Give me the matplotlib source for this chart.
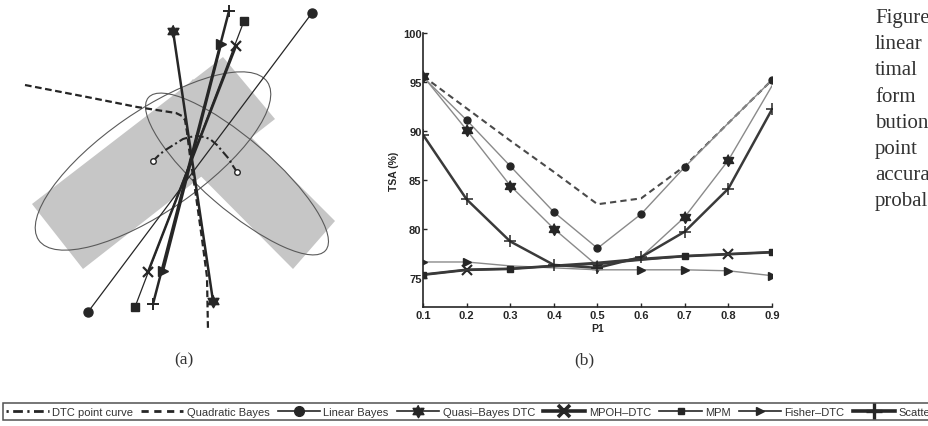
import numpy as np
import matplotlib
matplotlib.use("Agg")
import matplotlib.pyplot as plt
from matplotlib.lines import Line2D
from matplotlib.patches import Polygon, Ellipse

# ---- panel (b): total success accuracy vs prior P1
p1 = [0.1, 0.2, 0.3, 0.4, 0.5, 0.6, 0.7, 0.8, 0.9]
quadratic_bayes = [95.6, 92.3, 89.0, 85.8, 82.5, 83.1, 86.4, 90.8, 95.2]
linear_bayes = [95.5, 91.1, 86.4, 81.7, 78.0, 81.5, 86.3, 90.8, 95.2]
quasi_bayes_dtc = [95.6, 90.1, 84.4, 80.0, 76.2, 77.1, 81.2, 87.0, 94.6]
mpoh_dtc = [75.3, 75.8, 75.9, 76.2, 76.5, 76.9, 77.2, 77.4, 77.6]
mpm = [75.3, 75.8, 75.9, 76.2, 76.4, 76.8, 77.2, 77.4, 77.6]
fisher_dtc = [76.6, 76.6, 76.2, 76.0, 75.8, 75.8, 75.8, 75.7, 75.2]
scatter = [89.6, 83.0, 78.7, 76.3, 76.0, 77.1, 79.7, 84.1, 92.2]

# ---- panel (a): feature-space sketch (x right, y down)
cloud1_x = [32, 223, 275, 83]
cloud1_y = [205, 58, 120, 270]
cloud2_x = [193, 335, 293, 152]
cloud2_y = [80, 222, 270, 128]
centers_x = [153, 237]
centers_y = [162, 173]
ell1 = (153, 162, 278, 100, -34.7)   # cx, cy, width, height, angle
ell2 = (237, 175, 234, 70, 40.8)
dtc_curve_x = [153, 160, 167, 175, 183, 190, 197, 204, 210, 217, 223, 229, 233, 237]
dtc_curve_y = [162, 155, 150, 145, 140, 138, 137, 138, 140, 146, 153, 160, 167, 173]
quad_x = [25, 87, 137, 163, 176, 182, 185, 187, 190, 195, 202, 207, 208]
quad_y = [86, 98, 108, 112, 114, 117, 121, 133, 157, 190, 240, 278, 332]
linear_x, linear_y = [88, 312], [313, 14]
quasi_x, quasi_y = [173, 213], [32, 302]
mpoh_x, mpoh_y = [148, 236], [273, 47]
mpm_x, mpm_y = [135, 244], [308, 22]
fisher_x, fisher_y = [163, 221], [272, 45]
scat_x, scat_y = [153, 229], [305, 12]

caption = ["Figure", "linear", "timal", "form", "bution", "point", "accura", "probal"]
legend_labels = ["DTC point curve", "Quadratic Bayes", "Linear Bayes", "Quasi\u2013Bayes DTC",
                 "MPOH\u2013DTC", "MPM", "Fisher\u2013DTC", "Scatter"]

# six-pointed star like MATLAB's hexagram
ang = np.deg2rad(90 + 30 * np.arange(12))
rad = np.where(np.arange(12) % 2 == 0, 1.0, 0.58)
hexagram = list(zip(rad * np.cos(ang), rad * np.sin(ang)))

dark = "#262626"
grey = "#8a8a8a"
W, H = 929, 427
fig = plt.figure(figsize=(W / 100, H / 100), dpi=100)

# ---------------- panel (a)
ax = fig.add_axes([0, 0, 360 / W, 1])
ax.set_xlim(0, 360)
ax.set_ylim(H, 0)
ax.axis("off")
ax.add_patch(Polygon(list(zip(cloud1_x, cloud1_y)), closed=True, fc="#c6c6c6", ec="none"))
ax.add_patch(Polygon(list(zip(cloud2_x, cloud2_y)), closed=True, fc="#c6c6c6", ec="none"))
for cx, cy, w, h, a in (ell1, ell2):
    ax.add_patch(Ellipse((cx, cy), w, h, angle=a, fill=False, ec="#5a5a5a", lw=0.8))
ax.plot(quad_x, quad_y, color=dark, lw=1.6, ls=(0, (3, 1.6)))
ax.plot(dtc_curve_x, dtc_curve_y, color=dark, lw=1.5, ls=(0, (4, 1.5, 1, 1.5)))
ax.plot(centers_x, centers_y, ls="none", marker="o", ms=4, mfc="white", mec=dark, mew=1)
ax.plot(linear_x, linear_y, color=dark, lw=0.9, marker="o", ms=6.5)
ax.plot(mpm_x, mpm_y, color=dark, lw=0.9, marker="s", ms=5.5)
ax.plot(quasi_x, quasi_y, color=dark, lw=1.8, marker=hexagram, ms=9)
ax.plot(mpoh_x, mpoh_y, color=dark, lw=1.8, marker="x", ms=7, mew=1.6)
ax.plot(scat_x, scat_y, color=dark, lw=1.8, marker="+", ms=9, mew=1.4)
ax.plot(fisher_x, fisher_y, color=dark, lw=1.8, marker=">", ms=7)

# ---------------- panel (b)
bx = fig.add_axes([423 / W, 1 - 308 / H, (772 - 423) / W, (308 - 34) / H])
bx.plot(p1, quadratic_bayes, color="#4a4a4a", lw=1.5, ls=(0, (3, 2)))
bx.plot(p1, linear_bayes, color=grey, lw=1, marker="o", ms=5, mfc=dark, mec=dark,
        markevery=[0, 1, 2, 3, 4, 5, 6, 8])
bx.plot(p1, quasi_bayes_dtc, color=grey, lw=1, marker=hexagram, ms=8.5, mfc=dark, mec=dark,
        markevery=[0, 1, 2, 3, 4, 6, 7])
bx.plot(p1, fisher_dtc, color=grey, lw=1, marker=">", ms=5.5, mfc=dark, mec=dark,
        markevery=[0, 1, 5, 6, 7, 8])
bx.plot(p1, mpoh_dtc, color="#3a3a3a", lw=2, marker="x", ms=6.5, mew=1.5, mec=dark,
        markevery=[1, 7])
bx.plot(p1, mpm, color="#3a3a3a", lw=1.4, marker="s", ms=4.5, mfc=dark, mec=dark,
        markevery=[0, 2, 6, 8])
bx.plot(p1, scatter, color="#3a3a3a", lw=1.8, marker="+", ms=9, mew=1.1, mec=dark)
bx.set_xlim(0.1, 0.9)
bx.set_ylim(72, 100)
bx.set_xticks(p1)
bx.set_xticklabels([f"{v:.1f}" for v in p1])
bx.set_yticks([75, 80, 85, 90, 95, 100])
for s in ("top", "right"):
    bx.spines[s].set_visible(False)
for s in ("left", "bottom"):
    bx.spines[s].set_linewidth(1.2)
    bx.spines[s].set_color(dark)
bx.tick_params(direction="in", length=3, width=1, colors=dark, labelsize=8, pad=2)
bx.tick_params(axis="y", pad=1)
for lab in bx.get_xticklabels() + bx.get_yticklabels():
    lab.set_family("Liberation Sans")
    lab.set_fontweight("bold")
bx.set_xlabel("P1", fontsize=7.5, family="Liberation Sans", fontweight="bold", color=dark, labelpad=2)
bx.set_ylabel("TSA (%)", fontsize=7.5, family="Liberation Sans", fontweight="bold", color=dark, labelpad=3)

# ---------------- panel captions
fig.text(184 / W, 1 - 360 / H, "(a)", ha="center", va="center", fontsize=12.5,
         family="Liberation Serif", color="#333333")
fig.text(584 / W, 1 - 360 / H, "(b)", ha="center", va="center", fontsize=12.5,
         family="Liberation Serif", color="#333333")
for i, word in enumerate(caption):
    fig.text(875 / W, 1 - (23 + 26.2 * i) / H, word, ha="left", va="baseline", fontsize=15,
             family="Liberation Serif", color="#333333")

# ---------------- shared legend
handles = [
    Line2D([], [], color=dark, lw=2, ls=(0, (0.8, 1.6, 3.5, 1.6))),
    Line2D([], [], color=dark, lw=2, ls=(0, (2.6, 2))),
    Line2D([], [], color=dark, lw=1.2, marker="o", ms=7),
    Line2D([], [], color=dark, lw=1.2, marker=hexagram, ms=9),
    Line2D([], [], color=dark, lw=2.6, marker="x", ms=8, mew=2.6),
    Line2D([], [], color=dark, lw=1.2, marker="s", ms=5),
    Line2D([], [], color=dark, lw=1.2, marker=">", ms=6),
    Line2D([], [], color=dark, lw=2.6, marker="+", ms=11, mew=2.4),
]
leg = fig.legend(handles, legend_labels, ncol=8, loc="lower left",
                 bbox_to_anchor=(3 / W, 6 / H), borderaxespad=0, frameon=True, fancybox=False,
                 edgecolor=dark, prop={"family": "Liberation Sans", "size": 8},
                 handlelength=3.8, handletextpad=0.3, columnspacing=0.75, borderpad=0.3)
leg.get_frame().set_linewidth(1.1)
for t in leg.get_texts():
    t.set_color("#333333")

fig.savefig("out.png", dpi=100)
